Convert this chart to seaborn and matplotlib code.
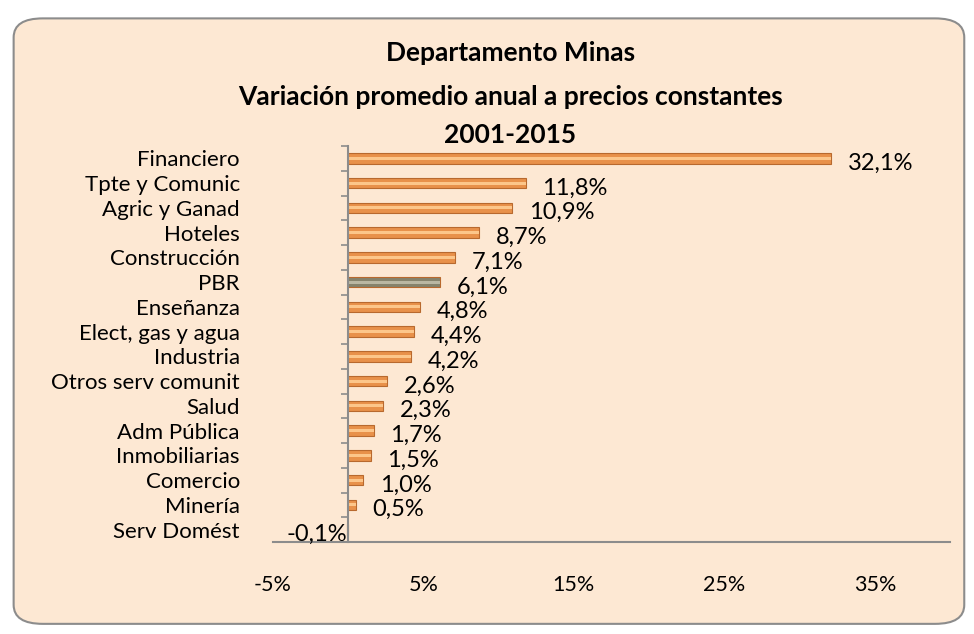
import seaborn as sns
import matplotlib.pyplot as plt
import pandas as pd
from matplotlib.patches import FancyBboxPatch

# data
sectores = ["Financiero", "Tpte y Comunic", "Agric y Ganad", "Hoteles", "Construcción",
            "PBR", "Enseñanza", "Elect, gas y agua", "Industria", "Otros serv comunit",
            "Salud", "Adm Pública", "Inmobiliarias", "Comercio", "Minería", "Serv Domést"]
variacion = [32.1, 11.8, 10.9, 8.7, 7.1, 6.1, 4.8, 4.4, 4.2, 2.6, 2.3, 1.7, 1.5, 1.0, 0.5, -0.1]
x_ticks = [-5, 5, 15, 25, 35]
titulo = ["Departamento Minas",
          "Variación promedio anual a precios constantes",
          "2001-2015"]

df = pd.DataFrame({"sector": sectores, "var": variacion})
colores = ["#85836C" if s == "PBR" else "#E8914A" for s in sectores]
brillo = ["#B9B7A2" if s == "PBR" else "#FCC68A" for s in sectores]

sns.set_theme(style="white")
plt.rcParams["font.family"] = ["Lato", "DejaVu Sans"]
plt.rcParams["text.color"] = "black"
plt.rcParams["xtick.color"] = "black"
plt.rcParams["ytick.color"] = "black"

fig = plt.figure(figsize=(9.74, 6.34), dpi=100)
fig.patch.set_facecolor("white")

# rounded panel behind the chart
panel = FancyBboxPatch((0.014, 0.016), 0.976, 0.955, boxstyle="round,pad=0,rounding_size=0.03",
                       transform=fig.transFigure, facecolor="#FDE8D3", edgecolor="#8C8C8C",
                       linewidth=1.5, zorder=-5)
fig.patches.append(panel)

ax = fig.add_axes([0.2803, 0.145, 0.6951, 0.6247])
ax.set_facecolor("none")
ax.set_zorder(2)

sns.barplot(data=df, y="sector", x="var", hue="sector", palette=colores, legend=False,
            orient="h", width=0.42, saturation=1, edgecolor="#B8692E", linewidth=0.8, ax=ax)
# lighter stripe for the glossy look
sns.barplot(data=df, y="sector", x="var", hue="sector", palette=brillo, legend=False,
            orient="h", width=0.12, saturation=1, linewidth=0, ax=ax)

ax.set_xlim(-5, 40)
ax.set_ylim(len(sectores) - 0.5, -0.5)
ax.set_xlabel("")
ax.set_ylabel("")

# value labels
for i, v in enumerate(variacion):
    txt = f"{v:.1f}%".replace(".", ",")
    if v >= 0:
        ax.annotate(txt, (v, i), xytext=(12, -3.5), textcoords="offset points",
                    ha="left", va="center", fontsize=17, color="black")
    else:
        ax.annotate(txt, (0, i), xytext=(-1, -3.5), textcoords="offset points",
                    ha="right", va="center", fontsize=17, color="black")

# axes styling
for s in ["top", "right"]:
    ax.spines[s].set_visible(False)
ax.spines["left"].set_position(("data", 0))
for s in ["left", "bottom"]:
    ax.spines[s].set_color("#8C8C8C")
    ax.spines[s].set_linewidth(1.5)

ax.set_xticks(x_ticks)
ax.set_xticklabels([f"{t}%" for t in x_ticks])
ax.tick_params(axis="x", which="major", direction="out", length=5, width=1.2,
               color="#8C8C8C", labelcolor="black", pad=19, labelsize=15.5)

ax.set_yticks(range(len(sectores)))
ax.set_yticklabels(sectores)
ax.set_yticks([i - 0.5 for i in range(len(sectores) + 1)], minor=True)
ax.tick_params(axis="y", which="major", length=0, pad=78, labelsize=16, labelcolor="black")
ax.tick_params(axis="y", which="minor", direction="out", length=5, width=1.2,
               color="#8C8C8C", left=True)

ys = [1 - 53 / 634, 1 - 97 / 634, 1 - 135 / 634]
for t, y in zip(titulo, ys):
    fig.text(0.524, y, t, ha="center", va="center", fontsize=19, fontweight="bold",
             color="black")

fig.savefig("out.png", dpi=100, facecolor=fig.get_facecolor())
